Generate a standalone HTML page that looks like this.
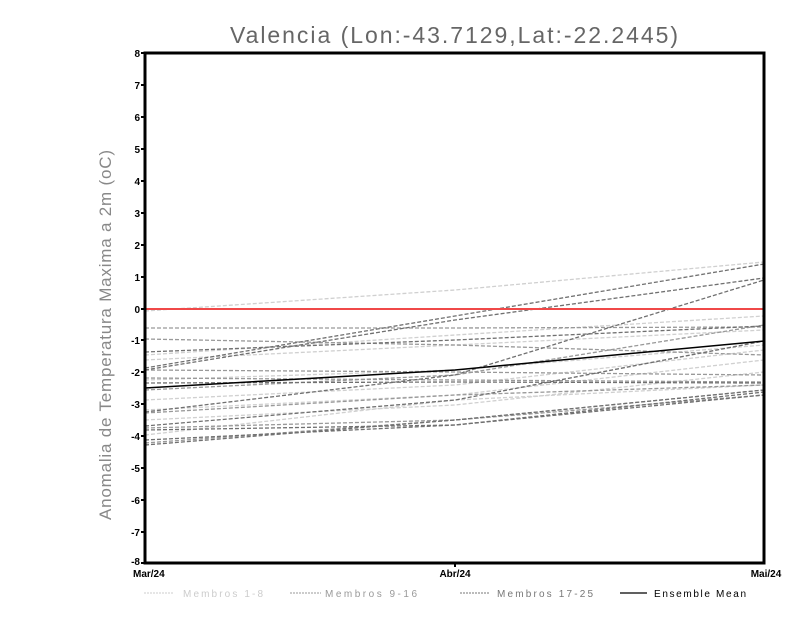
<!DOCTYPE html>
<html><head><meta charset="utf-8"><style>body{margin:0;background:#fff}svg{display:block}</style></head><body>
<svg width="800" height="618" viewBox="0 0 800 618" xmlns="http://www.w3.org/2000/svg" font-family="Liberation Sans, sans-serif">
<rect width="800" height="618" fill="#fff"/>
<text x="454" y="43" text-anchor="middle" font-size="23" fill="#666" textLength="448" lengthAdjust="spacing">Valencia (Lon:-43.7129,Lat:-22.2445)</text>
<text transform="translate(111,335) rotate(-90)" text-anchor="middle" font-size="17" fill="#888" textLength="370" lengthAdjust="spacing">Anomalia de Temperatura Maxima a 2m (oC)</text>
<g fill="none" stroke-width="1.3" stroke-dasharray="4,2">
<g stroke="#d0d0d0">
<polyline points="145,311 455,290 764,262"/>
<polyline points="145,355 455,335 764,316"/>
<polyline points="145,360 455,345 764,330"/>
<polyline points="145,380 455,370 764,345"/>
<polyline points="145,400 455,385 764,350"/>
<polyline points="145,420 455,405 764,372"/>
<polyline points="145,435 455,400 764,385"/>
<polyline points="145,410 455,395 764,360"/>
</g>
<g stroke="#999">
<polyline points="145,328 455,328 764,327"/>
<polyline points="145,339 455,345 764,355"/>
<polyline points="145,370 455,372 764,375"/>
<polyline points="145,378 455,380 764,382"/>
<polyline points="145,390 455,375 764,325"/>
<polyline points="145,413 455,395 764,385"/>
<polyline points="145,428 455,420 764,395"/>
<polyline points="145,443 455,420 764,390"/>
</g>
<g stroke="#707070">
<polyline points="145,368 455,316 764,264"/>
<polyline points="145,370 455,320 764,278"/>
<polyline points="145,412 455,375 764,280"/>
<polyline points="145,383 455,382 764,383"/>
<polyline points="145,426 455,400 764,341"/>
<polyline points="145,430 455,425 764,395"/>
<polyline points="145,440 455,425 764,392"/>
<polyline points="145,445 455,420 764,390"/>
<polyline points="145,352 455,340 764,326"/>
</g>
</g>
<polyline points="145,388 455,370 764,341" fill="none" stroke="#000" stroke-width="1.5"/>
<line x1="145" y1="309" x2="764" y2="309" stroke="#f04848" stroke-width="2"/>
<rect x="145" y="53" width="619" height="510" fill="none" stroke="#000" stroke-width="3"/>
<g stroke="#000" stroke-width="2">
<line x1="141" y1="53" x2="145" y2="53"/><line x1="141" y1="85" x2="145" y2="85"/><line x1="141" y1="117" x2="145" y2="117"/><line x1="141" y1="149" x2="145" y2="149"/><line x1="141" y1="181" x2="145" y2="181"/><line x1="141" y1="213" x2="145" y2="213"/><line x1="141" y1="245" x2="145" y2="245"/><line x1="141" y1="277" x2="145" y2="277"/><line x1="141" y1="309" x2="145" y2="309"/><line x1="141" y1="340" x2="145" y2="340"/><line x1="141" y1="372" x2="145" y2="372"/><line x1="141" y1="404" x2="145" y2="404"/><line x1="141" y1="436" x2="145" y2="436"/><line x1="141" y1="468" x2="145" y2="468"/><line x1="141" y1="500" x2="145" y2="500"/><line x1="141" y1="532" x2="145" y2="532"/><line x1="141" y1="563" x2="145" y2="563"/>
<line x1="455" y1="563" x2="455" y2="567"/>
</g>
<g font-size="10" font-weight="bold" text-anchor="end" fill="#000">
<text x="140" y="57">8</text><text x="140" y="89">7</text><text x="140" y="121">6</text><text x="140" y="153">5</text><text x="140" y="185">4</text><text x="140" y="217">3</text><text x="140" y="249">2</text><text x="140" y="281">1</text><text x="140" y="313">0</text><text x="140" y="344">-1</text><text x="140" y="376">-2</text><text x="140" y="408">-3</text><text x="140" y="440">-4</text><text x="140" y="472">-5</text><text x="140" y="504">-6</text><text x="140" y="536">-7</text><text x="140" y="565">-8</text>
</g>
<g font-size="10" font-weight="bold" fill="#000" text-anchor="middle">
<text x="133" y="577" text-anchor="start">Mar/24</text><text x="455" y="577">Abr/24</text><text x="766" y="577">Mai/24</text>
</g>
<g font-size="10">
<line x1="144" y1="593" x2="174" y2="593" stroke="#ccc" stroke-dasharray="2,1"/><text x="183" y="597" fill="#ccc" textLength="80" lengthAdjust="spacing">Membros 1-8</text>
<line x1="290" y1="593" x2="321" y2="593" stroke="#999" stroke-dasharray="2,1"/><text x="325" y="597" fill="#999" textLength="92" lengthAdjust="spacing">Membros 9-16</text>
<line x1="460" y1="593" x2="490" y2="593" stroke="#777" stroke-dasharray="2,1"/><text x="497" y="597" fill="#777" textLength="96" lengthAdjust="spacing">Membros 17-25</text>
<line x1="620" y1="593" x2="647" y2="593" stroke="#000" stroke-width="1.3"/><text x="654" y="597" fill="#000" textLength="92" lengthAdjust="spacing">Ensemble Mean</text>
</g>
</svg>
</body></html>
